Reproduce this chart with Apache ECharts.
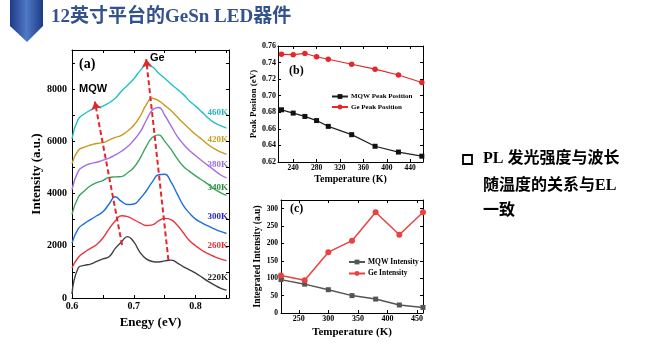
<!DOCTYPE html>
<html>
<head>
<meta charset="utf-8">
<script src="https://cdn.jsdelivr.net/npm/echarts@6/dist/echarts.min.js"></script>
<style>
  html, body { margin: 0; padding: 0; background: #fff; }
  #main { width: 668px; height: 353px; }
</style>
</head>
<body>
<div id="main"></div>
<script>
// (a) PL spectra, one row per temperature
const energy = [0.60, 0.61, 0.62, 0.63, 0.64, 0.65, 0.66, 0.67, 0.68, 0.69, 0.70, 0.71, 0.72,
  0.73, 0.74, 0.75, 0.76, 0.77, 0.78, 0.79, 0.80, 0.81, 0.82, 0.83, 0.84, 0.85];
const pl460 = [6100, 6850, 7050, 7200, 7280, 7350, 7480, 7650, 7920, 8150, 8400, 8700, 8900,
  8850, 8620, 8420, 8200, 8000, 7800, 7550, 7350, 7130, 6900, 6720, 6600, 6510];
const pl420 = [5150, 5650, 5780, 5860, 5920, 5950, 6050, 6150, 6230, 6400, 6620, 6950, 7400,
  7650, 7560, 7380, 7180, 6940, 6700, 6480, 6260, 6080, 5880, 5720, 5600, 5500];
const pl380 = [4150, 4850, 5050, 5150, 5200, 5280, 5360, 5480, 5620, 5800, 6050, 6350, 6800,
  7200, 7300, 7000, 6600, 6200, 5900, 5650, 5450, 5260, 5080, 4900, 4720, 4600];
const pl340 = [3200, 3850, 4100, 4300, 4420, 4500, 4620, 4640, 4650, 4800, 5000, 5350, 5800,
  6150, 6250, 6000, 5700, 5350, 5050, 4850, 4680, 4520, 4360, 4180, 4040, 3930];
const pl300 = [2100, 2650, 2850, 3000, 3150, 3300, 3600, 3880, 3700, 3580, 3600, 3800, 4100,
  4450, 4720, 4740, 4450, 4000, 3550, 3250, 3020, 2880, 2760, 2650, 2550, 2470];
const pl260 = [1150, 1550, 1750, 1900, 2050, 2300, 2650, 2950, 3150, 3120, 3000, 2880, 2780,
  2800, 2950, 3050, 3000, 2800, 2500, 2200, 2000, 1830, 1700, 1590, 1500, 1430];
const pl220 = [150, 1150, 1250, 1300, 1400, 1500, 1580, 1900, 2150, 2350, 2150, 1750, 1500,
  1400, 1380, 1420, 1450, 1350, 1200, 1080, 950, 800, 640, 500, 380, 300];
const spectraNames = ['460K', '420K', '380K', '340K', '300K', '260K', '220K'];
// red dashed peak-shift arrows: [from, to] in (eV, a.u.)
const arrows = [
  [[0.681, 2030], [0.637, 7520]],
  [[0.756, 1450], [0.720, 9150]]
];

// (b) peak positions
const tempB = [220, 240, 260, 280, 300, 340, 380, 420, 460];
const mqwPeak = [0.683, 0.679, 0.675, 0.670, 0.663, 0.653, 0.639, 0.632, 0.627];
const gePeak = [0.750, 0.7495, 0.751, 0.747, 0.744, 0.738, 0.732, 0.725, 0.716];

// (c) integrated intensity
const tempC = [220, 260, 300, 340, 380, 420, 460];
const mqwInt = [96, 83, 67, 50, 40, 23, 16];
const geInt = [108, 94, 175, 208, 290, 225, 290];

const serif = '"Liberation Serif", "Times New Roman", serif';
const cjk = '"Liberation Serif", "Noto Sans CJK SC", serif';
const spectraColors = ['#22BFC9', '#C99A1C', '#A56DE8', '#3AA45C', '#1E6FDB', '#E8363C', '#404040'];
const labelColors = ['#2FB3C4', '#C79E26', '#9C6FDF', '#2E8A40', '#2424CC', '#E0303A', '#222222'];
const spectra = [pl460, pl420, pl380, pl340, pl300, pl260, pl220];

const chart = echarts.init(document.getElementById('main'));

function pairs(xs, ys) {
  return xs.map((x, i) => [x, ys[i]]);
}

function axisBase(extra) {
  return Object.assign({
    type: 'value',
    axisLine: { show: true, onZero: false, lineStyle: { color: '#000', width: 1 } },
    axisTick: { show: true, inside: true, length: 3, lineStyle: { color: '#000' } },
    splitLine: { show: false },
    axisLabel: { color: '#000', fontFamily: serif, fontWeight: 'bold' }
  }, extra);
}

function mirror(gridIndex, position, min, max, ticks) {
  return axisBase({
    gridIndex: gridIndex,
    position: position,
    min: min,
    max: max,
    axisLabel: { show: false, customValues: ticks },
    axisTick: { show: true, inside: true, length: 3, customValues: ticks, lineStyle: { color: '#000' } }
  });
}

const ticksAX = [0.6, 0.65, 0.7, 0.75, 0.8, 0.85];
const ticksAY = [0, 1000, 2000, 3000, 4000, 5000, 6000, 7000, 8000, 9000];
const ticksBX = [240, 280, 320, 360, 400, 440];
const ticksCX = [250, 300, 350, 400, 450];
const ticksCY = [0, 50, 100, 150, 200, 250, 300];

const option = {
  animation: false,
  backgroundColor: '#fff',
  grid: [
    { left: 72, top: 50, right: 439, bottom: 55 },
    { left: 278, top: 46, right: 245, bottom: 191 },
    { left: 281, top: 200, right: 245, bottom: 40 }
  ],
  xAxis: [
    axisBase({
      gridIndex: 0, min: 0.6, max: 0.854,
      name: 'Enegy (eV)', nameLocation: 'middle', nameGap: 14,
      nameTextStyle: { fontFamily: serif, fontWeight: 'bold', fontSize: 13, color: '#000' },
      axisTick: { show: true, inside: true, length: 3, customValues: ticksAX },
      axisLabel: { customValues: [0.6, 0.7, 0.8], margin: 3, fontSize: 10, fontFamily: serif,
        fontWeight: 'bold', color: '#000', formatter: v => v.toFixed(1) }
    }),
    mirror(0, 'top', 0.6, 0.854, ticksAX),
    axisBase({
      gridIndex: 1, min: 214, max: 462,
      name: 'Temperature (K)', nameLocation: 'middle', nameGap: 12,
      nameTextStyle: { fontFamily: serif, fontWeight: 'bold', fontSize: 10, color: '#000' },
      axisTick: { show: true, inside: true, length: 3, customValues: ticksBX },
      axisLabel: { customValues: ticksBX, margin: 2, fontSize: 7.5, fontFamily: serif,
        fontWeight: 'bold', color: '#000' }
    }),
    mirror(1, 'top', 214, 462, ticksBX),
    axisBase({
      gridIndex: 2, min: 220, max: 460,
      name: 'Temperature (K)', nameLocation: 'middle', nameGap: 14,
      nameTextStyle: { fontFamily: serif, fontWeight: 'bold', fontSize: 11, color: '#000' },
      axisTick: { show: true, inside: true, length: 3, customValues: ticksCX },
      axisLabel: { customValues: ticksCX, margin: 2, fontSize: 8, fontFamily: serif,
        fontWeight: 'bold', color: '#000' }
    }),
    mirror(2, 'top', 220, 460, ticksCX)
  ],
  yAxis: [
    axisBase({
      gridIndex: 0, min: 0, max: 9500,
      name: 'Intensity (a.u.)', nameLocation: 'middle', nameGap: 28,
      nameTextStyle: { fontFamily: serif, fontWeight: 'bold', fontSize: 13, color: '#000' },
      axisTick: { show: true, inside: true, length: 3, customValues: ticksAY },
      axisLabel: { customValues: [0, 2000, 4000, 6000, 8000], margin: 5, fontSize: 10,
        fontFamily: serif, fontWeight: 'bold', color: '#000', formatter: v => String(v) }
    }),
    mirror(0, 'right', 0, 9500, ticksAY),
    axisBase({
      gridIndex: 1, min: 0.62, max: 0.76, interval: 0.02,
      name: 'Peak Positon (eV)', nameLocation: 'middle', nameGap: 20,
      nameTextStyle: { fontFamily: serif, fontWeight: 'bold', fontSize: 9, color: '#000' },
      axisLabel: { margin: 2, fontSize: 8, fontFamily: serif, fontWeight: 'bold', color: '#000',
        formatter: v => v.toFixed(2) }
    }),
    mirror(1, 'right', 0.62, 0.76, [0.62, 0.64, 0.66, 0.68, 0.70, 0.72, 0.74, 0.76]),
    axisBase({
      gridIndex: 2, min: 0, max: 325,
      name: 'Integrated Intensity (a.u)', nameLocation: 'middle', nameGap: 15,
      nameTextStyle: { fontFamily: serif, fontWeight: 'bold', fontSize: 9.5, color: '#000' },
      axisTick: { show: true, inside: true, length: 3, customValues: ticksCY },
      axisLabel: { customValues: ticksCY, margin: 3, fontSize: 7.5, fontFamily: serif,
        fontWeight: 'bold', color: '#000' }
    }),
    mirror(2, 'right', 0, 325, ticksCY)
  ],
  legend: [
    {
      data: ['MQW Peak Position', 'Ge Peak Position'],
      left: 326, top: 88, orient: 'vertical',
      itemWidth: 16, itemHeight: 6, itemGap: 3.5,
      textStyle: { fontFamily: serif, fontWeight: 'bold', fontSize: 7, color: '#000', padding: [0, 0, 0, -2] }
    },
    {
      data: ['MQW Intensity', 'Ge Intensity'],
      left: 343, top: 253, orient: 'vertical',
      itemWidth: 16, itemHeight: 6, itemGap: 3.5,
      textStyle: { fontFamily: serif, fontWeight: 'bold', fontSize: 7.5, color: '#000', padding: [0, 0, 0, -2] }
    }
  ],
  series: spectra.map((ys, i) => ({
    name: spectraNames[i],
    type: 'line',
    xAxisIndex: 0,
    yAxisIndex: 0,
    smooth: 0.5,
    showSymbol: false,
    lineStyle: { width: 1.4, color: spectraColors[i] },
    itemStyle: { color: spectraColors[i] },
    data: pairs(energy, ys),
    z: 2
  })).concat([
    {
      name: 'arrows',
      type: 'line',
      xAxisIndex: 0,
      yAxisIndex: 0,
      data: [],
      markLine: {
        silent: true,
        symbol: ['none', 'arrow'],
        symbolSize: 8,
        label: { show: false },
        lineStyle: { type: [5, 3], color: '#E8242A', width: 2 },
        data: arrows.map(a => [{ coord: a[0] }, { coord: a[1] }])
      },
      z: 5
    },
    {
      name: 'MQW Peak Position',
      type: 'line', xAxisIndex: 2, yAxisIndex: 2,
      symbol: 'rect', symbolSize: 5,
      lineStyle: { width: 1.2, color: '#222' }, itemStyle: { color: '#111' },
      data: pairs(tempB, mqwPeak)
    },
    {
      name: 'Ge Peak Position',
      type: 'line', xAxisIndex: 2, yAxisIndex: 2,
      symbol: 'circle', symbolSize: 5.5,
      lineStyle: { width: 1.2, color: '#E8262A' }, itemStyle: { color: '#E8262A' },
      data: pairs(tempB, gePeak)
    },
    {
      name: 'MQW Intensity',
      type: 'line', xAxisIndex: 4, yAxisIndex: 4,
      symbol: 'rect', symbolSize: 5,
      lineStyle: { width: 1.5, color: '#555' }, itemStyle: { color: '#555' },
      data: pairs(tempC, mqwInt)
    },
    {
      name: 'Ge Intensity',
      type: 'line', xAxisIndex: 4, yAxisIndex: 4,
      symbol: 'circle', symbolSize: 6,
      lineStyle: { width: 1.5, color: '#EE4040' }, itemStyle: { color: '#EE4040' },
      data: pairs(tempC, geInt)
    }
  ]),
  graphic: [
    // title badge
    {
      type: 'polygon',
      shape: { points: [[10, 0], [43, 0], [43, 26], [27, 42], [10, 26]] },
      style: {
        fill: new echarts.graphic.LinearGradient(0, 0, 1, 0, [
          { offset: 0, color: '#1D3A86' },
          { offset: 0.5, color: '#4F79C6' },
          { offset: 1, color: '#1D3A86' }
        ])
      }
    },
    {
      type: 'text', left: 51, top: 8,
      style: { text: '12英寸平台的GeSn LED器件', font: 'bold 19px ' + cjk, fill: '#34528E' }
    },
    // right-hand note
    {
      type: 'rect', shape: { x: 463, y: 155, width: 9, height: 9 },
      style: { fill: 'none', stroke: '#000', lineWidth: 1.8 }
    },
    {
      type: 'text', left: 483, top: 151,
      style: { text: 'PL 发光强度与波长', font: 'bold 16px ' + cjk, fill: '#000' }
    },
    {
      type: 'text', left: 483, top: 178,
      style: { text: '随温度的关系与EL', font: 'bold 16px ' + cjk, fill: '#000' }
    },
    {
      type: 'text', left: 483, top: 203,
      style: { text: '一致', font: 'bold 16px ' + cjk, fill: '#000' }
    },
    // panel tags
    { type: 'text', left: 79, top: 57, style: { text: '(a)', font: 'bold 14px ' + serif, fill: '#000' } },
    { type: 'text', left: 289, top: 65, style: { text: '(b)', font: 'bold 12px ' + serif, fill: '#000' } },
    { type: 'text', left: 290, top: 203, style: { text: '(c)', font: 'bold 12px ' + serif, fill: '#000' } },
    { type: 'text', left: 79, top: 83, style: { text: 'MQW', font: 'bold 11px "Liberation Sans", Arial, sans-serif', fill: '#000' } },
    { type: 'text', left: 150, top: 52, style: { text: 'Ge', font: 'bold 11px "Liberation Sans", Arial, sans-serif', fill: '#000' } }
  ].concat(spectraNames.map((t, i) => ({
    type: 'text',
    right: 668 - 228,
    top: [108, 135, 160, 183, 212, 241, 273][i],
    style: { text: t, font: 'bold 9px ' + serif, fill: labelColors[i] }
  })))
};

chart.setOption(option);
</script>
</body>
</html>
